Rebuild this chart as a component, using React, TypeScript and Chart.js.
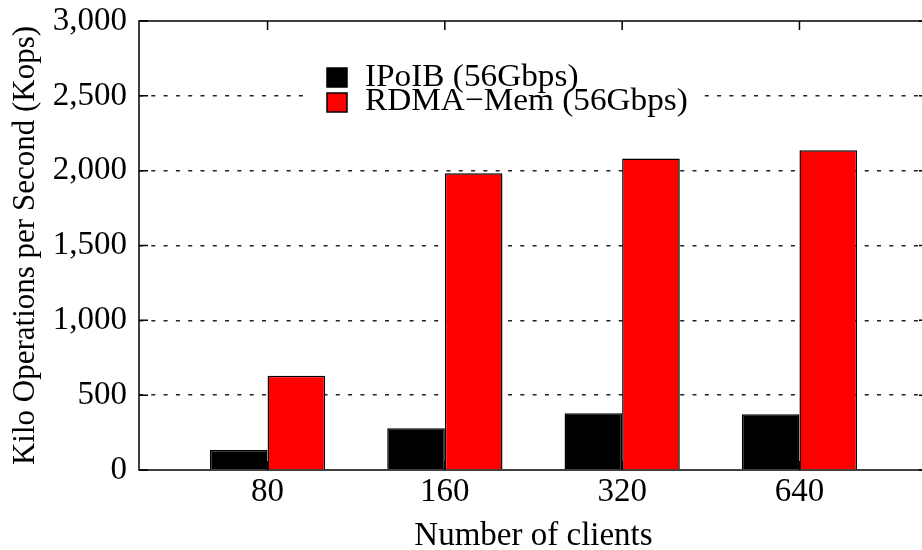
import React, { useEffect, useRef } from "react";
import { Chart, registerables } from "chart.js";

Chart.register(...registerables);

const categories = ["80", "160", "320", "640"];
const ipoibValues = [133, 279, 379, 372];
const rdmaValues = [629, 1983, 2082, 2136];
const seriesLabels = ["IPoIB (56Gbps)", "RDMA\u2212Mem (56Gbps)"];
const seriesColors = ["#000000", "#ff0000"];
const yTicks = [0, 500, 1000, 1500, 2000, 2500, 3000];

const SERIF = '"Liberation Serif", "DejaVu Serif", serif';

const framePlugin = {
  id: "frame",
  beforeDatasetsDraw(chart: any) {
    const { ctx, chartArea, scales } = chart;
    const { left, right, top, bottom } = chartArea;
    const x = scales.x;
    const y = scales.y;
    ctx.save();
    ctx.strokeStyle = "#000";
    ctx.lineWidth = 1.5;
    ctx.setLineDash([]);
    ctx.strokeRect(left, top, right - left, bottom - top);
    const tl = 9;
    ctx.beginPath();
    y.ticks.forEach((t: any) => {
      const py = y.getPixelForValue(t.value);
      ctx.moveTo(left, py);
      ctx.lineTo(left + tl, py);
      ctx.moveTo(right, py);
      ctx.lineTo(right - tl, py);
    });
    x.ticks.forEach((t: any) => {
      const px = x.getPixelForValue(t.value);
      ctx.moveTo(px, top);
      ctx.lineTo(px, top + tl);
      ctx.moveTo(px, bottom);
      ctx.lineTo(px, bottom - tl);
    });
    ctx.stroke();
    ctx.restore();
  },
  afterDatasetsDraw(chart: any) {
    const { ctx } = chart;
    ctx.save();
    ctx.fillStyle = "#fff";
    ctx.fillRect(306, 62, 391, 52);
    const rows = [
      { sy: 68, baseline: 86 },
      { sy: 93, baseline: 110 },
    ];
    chart.data.datasets.forEach((ds: any, i: number) => {
      const r = rows[i];
      ctx.fillStyle = ds.backgroundColor;
      ctx.fillRect(327, r.sy, 20, 19);
      ctx.strokeStyle = "#000";
      ctx.lineWidth = 1.5;
      ctx.strokeRect(327, r.sy, 20, 19);
      ctx.save();
      ctx.translate(365, r.baseline);
      ctx.scale(1.04, 1);
      ctx.fillStyle = "#000";
      ctx.font = `32px ${SERIF}`;
      ctx.textBaseline = "alphabetic";
      ctx.textAlign = "left";
      ctx.fillText(ds.label, 0, 0);
      ctx.restore();
    });
    ctx.restore();
  },
};

export default function App() {
  const canvasRef = useRef<HTMLCanvasElement | null>(null);

  useEffect(() => {
    const canvas = canvasRef.current;
    if (!canvas) return;
    const chart = new Chart(canvas, {
      type: "bar",
      data: {
        datasets: [
          {
            label: seriesLabels[0],
            data: ipoibValues.map((v, i) => ({ x: i, y: v })),
            backgroundColor: seriesColors[0],
            borderColor: "#000",
            borderWidth: 1.5,
          },
          {
            label: seriesLabels[1],
            data: rdmaValues.map((v, i) => ({ x: i, y: v })),
            backgroundColor: seriesColors[1],
            borderColor: "#000",
            borderWidth: 1.5,
          },
        ],
      },
      options: {
        responsive: false,
        animation: false,
        devicePixelRatio: 1,
        layout: { padding: { left: 0, right: 8, top: 21, bottom: 0 } },
        datasets: {
          bar: { categoryPercentage: 0.65, barPercentage: 1.0 },
        },
        plugins: {
          legend: { display: false },
          tooltip: { enabled: false },
        },
        scales: {
          x: {
            type: "linear",
            min: -0.725,
            max: 3.725,
            offset: false,
            afterBuildTicks: (scale: any) => {
              scale.ticks = categories.map((_, i) => ({ value: i }));
            },
            afterFit: (scale: any) => {
              scale.height = 80;
              scale.paddingLeft = 0;
              scale.paddingRight = 0;
            },
            grid: { display: false, offset: false, drawTicks: false },
            border: { display: false },
            ticks: {
              padding: 3,
              color: "#000",
              font: { family: SERIF, size: 33 },
              callback: (v: any) => categories[Math.round(Number(v))] ?? "",
            },
            title: {
              display: true,
              text: "Number of clients",
              color: "#000",
              font: { family: SERIF, size: 33, lineHeight: 1 },
              padding: { top: 0, bottom: -3 },
            },
          },
          y: {
            type: "linear",
            min: 0,
            max: 3000,
            afterBuildTicks: (scale: any) => {
              scale.ticks = yTicks.map((v) => ({ value: v }));
            },
            afterFit: (scale: any) => {
              scale.width = 139;
              scale.paddingTop = 0;
              scale.paddingBottom = 0;
            },
            grid: {
              drawTicks: false,
              color: (c: any) =>
                c.tick && (c.tick.value === 0 || c.tick.value === 3000)
                  ? "rgba(0,0,0,0)"
                  : "#222",
              lineWidth: 1.5,
            },
            border: { display: false, dash: [4, 8.3] },
            ticks: {
              padding: 12,
              color: "#000",
              font: { family: SERIF, size: 33 },
              callback: (v: any) => Number(v).toLocaleString("en-US"),
            },
            title: {
              display: true,
              text: "Kilo Operations per Second (Kops)",
              color: "#000",
              font: { family: SERIF, size: 31, lineHeight: 1 },
              padding: { top: 10, bottom: 0 },
            },
          },
        },
      },
      plugins: [framePlugin],
    } as any);
    return () => chart.destroy();
  }, []);

  return (
    <div
      style={{
        position: "absolute",
        left: 0,
        top: 0,
        width: 922,
        height: 550,
        overflow: "hidden",
        background: "#fff",
      }}
    >
      <canvas
        ref={canvasRef}
        width={936}
        height={550}
        style={{ display: "block", width: 936, height: 550 }}
      />
    </div>
  );
}
